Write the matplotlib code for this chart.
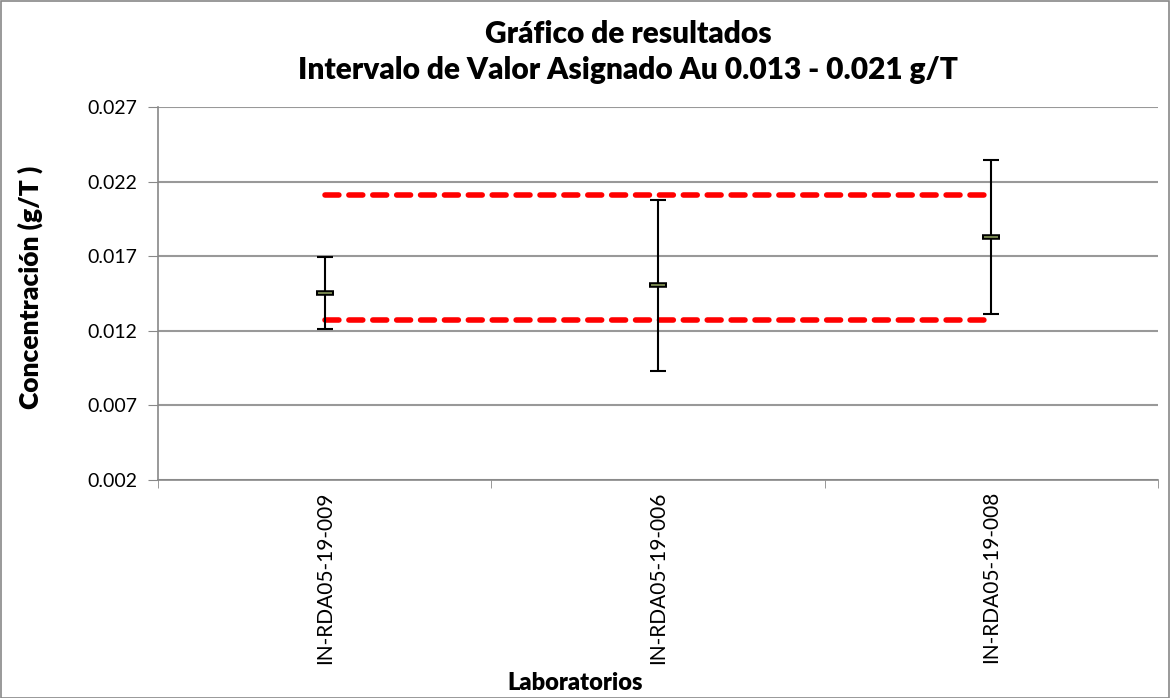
import matplotlib
matplotlib.use("Agg")
import matplotlib.pyplot as plt
from matplotlib.patches import Rectangle

plt.rcParams['font.family'] = ['Lato', 'DejaVu Sans']

labs = ['IN-RDA05-19-009', 'IN-RDA05-19-006', 'IN-RDA05-19-008']
means = [0.01453, 0.01505, 0.01831]
upper = [0.01695, 0.02077, 0.02343]
lower = [0.01212, 0.00931, 0.01313]
limit_low = 0.0127
limit_high = 0.0211
yticks = [0.002, 0.007, 0.012, 0.017, 0.022, 0.027]

fig = plt.figure(figsize=(11.71, 6.98), dpi=100)
fig.patches.append(Rectangle((0.0005, 0.0007), 0.998, 0.998, transform=fig.transFigure,
                             fill=False, edgecolor='#888888', linewidth=1.2))
ax = fig.add_axes([0.1349, 0.3123, 0.854, 0.5344])

x = list(range(1, len(labs) + 1))

# assigned-value interval
ax.plot([x[0], x[-1]], [limit_high, limit_high], color='#ff0000', lw=4,
        ls=(0, (2.5, 1.8)), dash_capstyle='round', zorder=2)
ax.plot([x[0], x[-1]], [limit_low, limit_low], color='#ff0000', lw=4,
        ls=(0, (2.5, 1.8)), dash_capstyle='round', zorder=2)

err_lo = [m - l for m, l in zip(means, lower)]
err_hi = [u - m for m, u in zip(means, upper)]
ax.errorbar(x, means, yerr=[err_lo, err_hi], fmt='none', ecolor='black',
            elinewidth=1.5, capsize=6, capthick=1.5, zorder=3)
ax.plot(x, means, ls='none', marker='_', markersize=13, markeredgewidth=4,
        color='black', zorder=4)
ax.plot(x, means, ls='none', marker='_', markersize=10, markeredgewidth=1.2,
        color='#8a9a5b', zorder=5)

ax.set_xlim(0.5, len(labs) + 0.5)
ax.set_ylim(0.002, 0.027)
ax.set_yticks(yticks)
ax.set_yticklabels([f'{v:.3f}' for v in yticks], fontsize=14)
ax.set_xticks(x)
ax.set_xticklabels(labs, rotation=90, fontsize=15)
ax.tick_params(axis='x', length=0, pad=8)
ax.set_xticks([i + 0.5 for i in range(len(labs) + 1)], minor=True)
ax.tick_params(axis='x', which='minor', length=6, color='#888888')
ax.tick_params(axis='y', length=7, color='#888888', pad=8)

ax.yaxis.grid(True, color='#999999', lw=1.5)
ax.set_axisbelow(True)
for s in ['top', 'right']:
    ax.spines[s].set_visible(False)
for s in ['left', 'bottom']:
    ax.spines[s].set_color('#888888')
    ax.spines[s].set_linewidth(1.2)

fig.text(30 / 1171, 1 - 287 / 698, 'Concentración (g/T )', rotation=90,
         ha='center', va='center', fontsize=19, fontweight='heavy')
fig.text(575 / 1171, 1 - 683 / 698, 'Laboratorios', ha='center', va='center',
         fontsize=17, fontweight='heavy')
fig.text(628 / 1171, 1 - 52 / 698,
         'Gráfico de resultados\nIntervalo de Valor Asignado Au 0.013 - 0.021 g/T',
         ha='center', va='center', fontsize=21.5, fontweight='heavy', linespacing=1.32)

fig.savefig('out.png', dpi=100)
